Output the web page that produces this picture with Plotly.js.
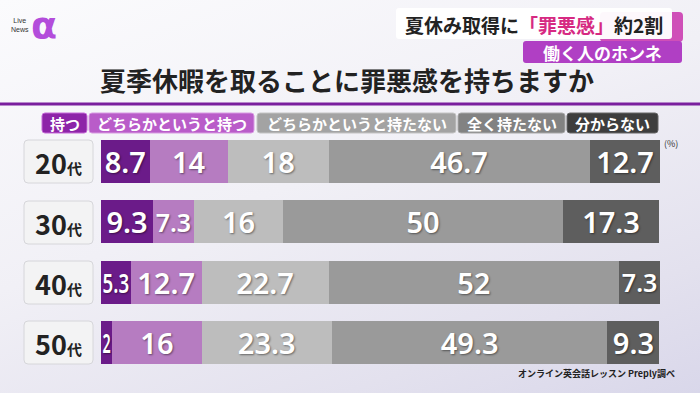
<!DOCTYPE html>
<html>
<head>
<meta charset="utf-8">
<script src="https://cdn.plot.ly/plotly-3.0.1.min.js"></script>
<style>
  html, body { margin: 0; padding: 0; }
  body { width: 700px; height: 393px; overflow: hidden;
    background: linear-gradient(160deg, #fbfbfd 0%, #f1f0f6 45%, #e3e1ee 80%, #d9d7ea 100%); }
  #chart { width: 700px; height: 393px; }
</style>
</head>
<body>
<div id="chart"></div>
<script>
// ---- data ----
const ages = ['20代', '30代', '40代', '50代'];
const seriesNames = ['持つ', 'どちらかというと持つ', 'どちらかというと持たない', '全く持たない', '分からない'];
const motsu        = [8.7, 9.3, 5.3, 2];
const yaMotsu      = [14, 7.3, 12.7, 16];
const yaMotanai    = [18, 16, 22.7, 23.3];
const mattaku      = [46.7, 50, 52, 49.3];
const wakaranai    = [12.7, 17.3, 7.3, 9.3];
const seriesValues = [motsu, yaMotsu, yaMotanai, mattaku, wakaranai];

const titleText = '夏季休暇を取ることに罪悪感を持ちますか';
const headline = '夏休み取得に<span style="color:#d62a82">「罪悪感」</span>約2割';
const subHead = '働く人のホンネ';
const sourceText = 'オンライン英会話レッスン Preply調べ';

// ---- styles ----
const barColors = ['#6b1b89', '#b67cc1', '#bdbdbd', '#9a9a9a', '#5e5e5e'];
const legendBg = ['#8d24a8', '#b95cc9', '#a3a3a3', '#828282', '#3d3d3d'];
const legendLine = ['#c66bd8', '#d89ae2', '#c4c4c4', '#a8a8a8', '#666666'];
const legendBox = [[42, 87], [89, 254], [257, 456], [458, 565], [567, 658]];

const W = 700, H = 393;
const M = {l: 101, r: 40, t: 131, b: 20};
const PW = W - M.l - M.r, PH = H - M.t - M.b;
const fx = px => (px - M.l) / PW;
const fy = py => (H - M.b - py) / PH;

function rrect(x0, y0, x1, y1, r) {
  const rx = r / PW, ry = r / PH;
  const X0 = fx(x0), X1 = fx(x1), Y0 = fy(y0), Y1 = fy(y1);
  return `M${X0 + rx},${Y0} L${X1 - rx},${Y0} Q${X1},${Y0} ${X1},${Y0 - ry} ` +
         `L${X1},${Y1 + ry} Q${X1},${Y1} ${X1 - rx},${Y1} L${X0 + rx},${Y1} ` +
         `Q${X0},${Y1} ${X0},${Y1 + ry} L${X0},${Y0 - ry} Q${X0},${Y0} ${X0 + rx},${Y0} Z`;
}

const jp = '"Noto Sans CJK JP", "Noto Sans", sans-serif';
const numFont = '"Noto Sans", "Open Sans", sans-serif';

const traces = seriesNames.map((name, i) => ({
  type: 'bar',
  orientation: 'h',
  name: name,
  y: ages,
  x: seriesValues[i],
  text: seriesValues[i].map(v => String(v)),
  textposition: 'inside',
  insidetextanchor: 'middle',
  constraintext: 'none',
  textangle: 0,
  textfont: {
    family: numFont,
    size: seriesValues[i].map(v => v < 6 ? 27 : (v < 8 ? 25 : 29)),
    color: '#ffffff', weight: 600,
    shadow: '1px 1px 2px rgba(0,0,0,0.45)'
  },
  marker: {color: barColors[i], line: {width: 0}},
  hoverinfo: 'skip'
}));

const shapes = [];
const annotations = [];

// header line
shapes.push({type: 'line', xref: 'paper', yref: 'paper', x0: fx(0), x1: fx(700), y0: fy(104), y1: fy(104),
             line: {color: '#7a1f9e', width: 3}, layer: 'above'});

// headline boxes
shapes.push({type: 'path', xref: 'paper', yref: 'paper', path: rrect(600, 12, 683, 42, 4),
             fillcolor: '#cf4fb8', line: {width: 0}});
shapes.push({type: 'path', xref: 'paper', yref: 'paper', path: rrect(396, 8, 672, 39, 3),
             fillcolor: 'rgba(255,255,255,0.96)', line: {width: 0}});
shapes.push({type: 'path', xref: 'paper', yref: 'paper', path: rrect(523, 41, 682, 63, 3),
             fillcolor: '#b03fc4', line: {width: 0}});

annotations.push({xref: 'paper', yref: 'paper', x: fx(534), y: fy(24), xanchor: 'center', yanchor: 'middle',
  text: headline, showarrow: false, font: {family: jp, size: 19, color: '#222222', weight: 'bold'}});
annotations.push({xref: 'paper', yref: 'paper', x: fx(602), y: fy(52), xanchor: 'center', yanchor: 'middle',
  text: subHead, showarrow: false, font: {family: jp, size: 17, color: '#ffffff', weight: 'bold'}});

// logo
annotations.push({xref: 'paper', yref: 'paper', x: fx(44), y: fy(25), xanchor: 'center', yanchor: 'middle',
  text: 'α', showarrow: false, font: {family: '"DejaVu Sans", sans-serif', size: 38, color: '#b34ddb', weight: 'bold'}});
annotations.push({xref: 'paper', yref: 'paper', x: fx(20), y: fy(25), xanchor: 'center', yanchor: 'middle',
  text: 'Live<br>News', showarrow: false, font: {family: '"Liberation Sans", sans-serif', size: 7, color: '#333333'}});

// title
annotations.push({xref: 'paper', yref: 'paper', x: fx(347), y: fy(80), xanchor: 'center', yanchor: 'middle',
  text: titleText, showarrow: false, font: {family: jp, size: 26, color: '#222222', weight: 'bold'}});

// legend
seriesNames.forEach((name, i) => {
  const [a, b] = legendBox[i];
  shapes.push({type: 'path', xref: 'paper', yref: 'paper', path: rrect(a, 113, b, 133, 3),
               fillcolor: legendBg[i], line: {color: legendLine[i], width: 1}});
  annotations.push({xref: 'paper', yref: 'paper', x: fx((a + b) / 2), y: fy(123), xanchor: 'center', yanchor: 'middle',
    text: name, showarrow: false, font: {family: jp, size: 15, color: '#ffffff', weight: 'bold'}});
});

// age label boxes
const rowTops = [140, 201, 261, 321];
ages.forEach((age, i) => {
  const t = rowTops[i];
  shapes.push({type: 'path', xref: 'paper', yref: 'paper', path: rrect(24, t, 93, t + 43, 4),
               fillcolor: '#f3f3f4', line: {color: '#d6d6da', width: 1}});
  annotations.push({xref: 'paper', yref: 'paper', x: fx(58), y: fy(t + 22), xanchor: 'center', yanchor: 'middle',
    text: age.slice(0, 2) + '<span style="font-size:15px">' + age.slice(2) + '</span>', showarrow: false,
    font: {family: jp, size: 27, color: '#222222', weight: 'bold'}});
});

// unit and source
annotations.push({xref: 'paper', yref: 'paper', x: fx(662), y: fy(143), xanchor: 'left', yanchor: 'middle',
  text: '(%)', showarrow: false, font: {family: jp, size: 9, color: '#333333'}});
annotations.push({xref: 'paper', yref: 'paper', x: fx(677), y: fy(373), xanchor: 'right', yanchor: 'middle',
  text: sourceText, showarrow: false, font: {family: jp, size: 9, color: '#222222', weight: 'bold'}});

const layout = {
  width: W, height: H,
  margin: M,
  paper_bgcolor: 'rgba(0,0,0,0)',
  plot_bgcolor: 'rgba(0,0,0,0)',
  barmode: 'stack',
  bargap: 0.29,
  showlegend: false,
  xaxis: {range: [0, 100], visible: false, fixedrange: true},
  yaxis: {categoryorder: 'array', categoryarray: ages, autorange: 'reversed', visible: false, fixedrange: true},
  shapes: shapes,
  annotations: annotations
};

// condense (horizontally) any bar label wider than its bar, like the broadcast graphic
function condenseLabels(gd) {
  try {
    gd.querySelectorAll('.barlayer .point').forEach(pt => {
      const bar = pt.querySelector('path');
      const txt = pt.querySelector('text');
      if (!bar || !txt) return;
      const bw = bar.getBBox().width;
      const tb = txt.getBBox();
      const avail = bw - 3;
      if (tb.width > avail && avail > 0) {
        const s = avail / tb.width;
        const cx = tb.x + tb.width / 2;
        const prev = txt.getAttribute('transform') || '';
        txt.setAttribute('transform', `${prev} translate(${cx},0) scale(${s},1) translate(${-cx},0)`);
      }
    });
  } catch (e) {}
}

Plotly.newPlot('chart', traces, layout, {displayModeBar: false, staticPlot: true})
  .then(gd => condenseLabels(gd));
</script>
</body>
</html>
